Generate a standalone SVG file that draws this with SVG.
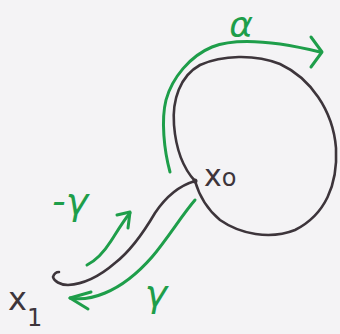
<svg xmlns="http://www.w3.org/2000/svg" width="340" height="334" viewBox="0 0 340 334">
<style>
.ink{fill:none;stroke:#3d353b;stroke-width:2.6;stroke-linecap:round;stroke-linejoin:round}
.grn{fill:none;stroke:#1e9e4a;stroke-width:3;stroke-linecap:round;stroke-linejoin:round}
.lbl{font-family:"DejaVu Sans",sans-serif}
.g{fill:#1e9e4a}
.k{fill:#3d353b}
</style>
<rect width="340" height="334" fill="#f4f3f5"/>
<g id="loop">
<path class="ink" d="M195,181 C183,168 176,150 174,125 C172,100 180,76 200,65 C222,55 255,54 280,64 C310,78 333,110 336,148 C338,185 325,215 295,230 C270,240 240,234 220,220 C208,210 199,195 195,181 Z"/>
</g>
<g id="path">
<path class="ink" d="M195,181 C178,186 165,198 155,213 C145,230 132,250 115,263 C100,276 85,284 68,285 C60,285 54,281 53,277 C54,274 56,272 59,272"/>
</g>
<g id="x0">
<circle cx="195" cy="181" r="2.5" fill="#3d353b"/>
<text class="lbl k" x="204" y="186" font-size="30">x<tspan font-size="24">o</tspan></text>
</g>
<g id="x1">
<text class="lbl k" x="8" y="310" font-size="32">x<tspan font-size="24" dy="16">1</tspan></text>
</g>
<g id="connectors">
<g id="alpha-arrow">
<path class="grn" d="M170,172 C164,150 161,120 166,100 C172,78 190,56 212,47 C235,38 270,40 320,52"/>
<path class="grn" d="M311,37 L322,52 L311,67"/>
</g>
<g id="neg-gamma-arrow">
<path class="grn" d="M87,265 C97,260 104,252 111,241 C118,230 124,220 130,213"/>
<path class="grn" d="M117,215 L130,212 L128,228"/>
</g>
<g id="gamma-arrow">
<path class="grn" d="M195,200 C182,215 168,238 152,257 C138,273 122,286 105,293 C93,298 80,300 70,298"/>
<path class="grn" d="M91,292 L70,298 L88,309"/>
</g>
</g>
<g id="labels">
<text class="lbl g" x="241" y="37" font-size="36" text-anchor="middle" font-style="italic">α</text>
<text class="lbl g" x="52" y="214" font-size="38" font-style="italic">-γ</text>
<text class="lbl g" x="156" y="306" font-size="38" text-anchor="middle" font-style="italic">γ</text>
</g>
</svg>
